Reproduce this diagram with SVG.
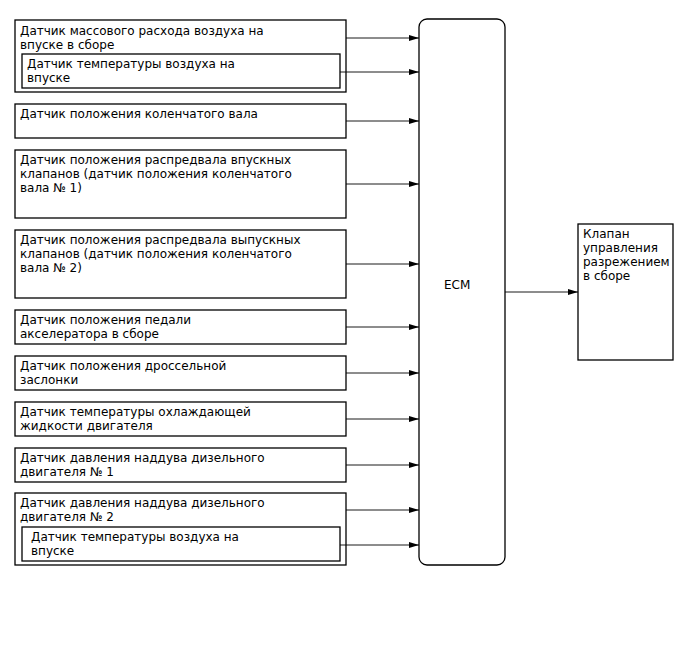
<svg xmlns="http://www.w3.org/2000/svg" width="688" height="658" viewBox="0 0 688 658">
<defs>
<style>
.b{fill:#fff;stroke:#000;stroke-width:1.3}
.t{font-family:"DejaVu Sans",sans-serif;font-size:12px;fill:#000}
.c{stroke:#000;stroke-width:0.9;fill:none;marker-end:url(#a)}
</style>
<marker id="a" markerWidth="10" markerHeight="6" refX="10" refY="3" orient="auto" markerUnits="userSpaceOnUse"><path d="M0,0 L10,3 L0,6 Z" fill="#000"/></marker>
</defs>
<rect width="688" height="658" fill="#fff"/>
<g id="maf"><rect class="b" x="15" y="20" width="331" height="72"/>
<text class="t" x="20" y="35">Датчик массового расхода воздуха на</text><text class="t" x="20" y="49">впуске в сборе</text></g>
<g id="iat1"><rect class="b" x="22" y="54" width="318" height="34"/>
<text class="t" x="27" y="68">Датчик температуры воздуха на</text><text class="t" x="27" y="82">впуске</text></g>
<g id="ckp"><rect class="b" x="15" y="104" width="331" height="34"/>
<text class="t" x="20" y="118">Датчик положения коленчатого вала</text></g>
<g id="cmp_in"><rect class="b" x="15" y="150" width="331" height="68"/>
<text class="t" x="20" y="164">Датчик положения распредвала впускных</text><text class="t" x="20" y="178">клапанов (датчик положения коленчатого</text><text class="t" x="20" y="192">вала № 1)</text></g>
<g id="cmp_ex"><rect class="b" x="15" y="230" width="331" height="68"/>
<text class="t" x="20" y="244">Датчик положения распредвала выпускных</text><text class="t" x="20" y="258">клапанов (датчик положения коленчатого</text><text class="t" x="20" y="272">вала № 2)</text></g>
<g id="app"><rect class="b" x="15" y="310" width="331" height="34"/>
<text class="t" x="20" y="324">Датчик положения педали</text><text class="t" x="20" y="338">акселератора в сборе</text></g>
<g id="tps"><rect class="b" x="15" y="356" width="331" height="34"/>
<text class="t" x="20" y="370">Датчик положения дроссельной</text><text class="t" x="20" y="384">заслонки</text></g>
<g id="ect"><rect class="b" x="15" y="402" width="331" height="34"/>
<text class="t" x="20" y="416">Датчик температуры охлаждающей</text><text class="t" x="20" y="430">жидкости двигателя</text></g>
<g id="map1"><rect class="b" x="15" y="448" width="331" height="34"/>
<text class="t" x="20" y="462">Датчик давления наддува дизельного</text><text class="t" x="20" y="476">двигателя № 1</text></g>
<g id="map2"><rect class="b" x="15" y="493" width="331" height="72"/>
<text class="t" x="20" y="507">Датчик давления наддува дизельного</text><text class="t" x="20" y="521">двигателя № 2</text></g>
<g id="iat2"><rect class="b" x="22" y="527" width="318" height="34"/>
<text class="t" x="31" y="541">Датчик температуры воздуха на</text><text class="t" x="31" y="555">впуске</text></g>
<g id="ecm"><rect class="b" x="419" y="19" width="86" height="546" rx="8"/>
<text class="t" x="444" y="289">ECM</text></g>
<g id="valve"><rect class="b" x="578" y="224" width="95" height="136"/>
<text class="t" x="583" y="238">Клапан</text><text class="t" x="583" y="252">управления</text><text class="t" x="583" y="266">разрежением</text><text class="t" x="583" y="280">в сборе</text></g>
<g id="connectors">
<line class="c" x1="346" y1="38" x2="419" y2="38"/>
<line class="c" x1="340" y1="72" x2="419" y2="72"/>
<line class="c" x1="346" y1="121" x2="419" y2="121"/>
<line class="c" x1="346" y1="184" x2="419" y2="184"/>
<line class="c" x1="346" y1="264" x2="419" y2="264"/>
<line class="c" x1="346" y1="327" x2="419" y2="327"/>
<line class="c" x1="346" y1="373" x2="419" y2="373"/>
<line class="c" x1="346" y1="419" x2="419" y2="419"/>
<line class="c" x1="346" y1="465" x2="419" y2="465"/>
<line class="c" x1="346" y1="510" x2="419" y2="510"/>
<line class="c" x1="340" y1="545" x2="419" y2="545"/>
<line class="c" x1="505" y1="292" x2="578" y2="292"/>
</g>
</svg>
